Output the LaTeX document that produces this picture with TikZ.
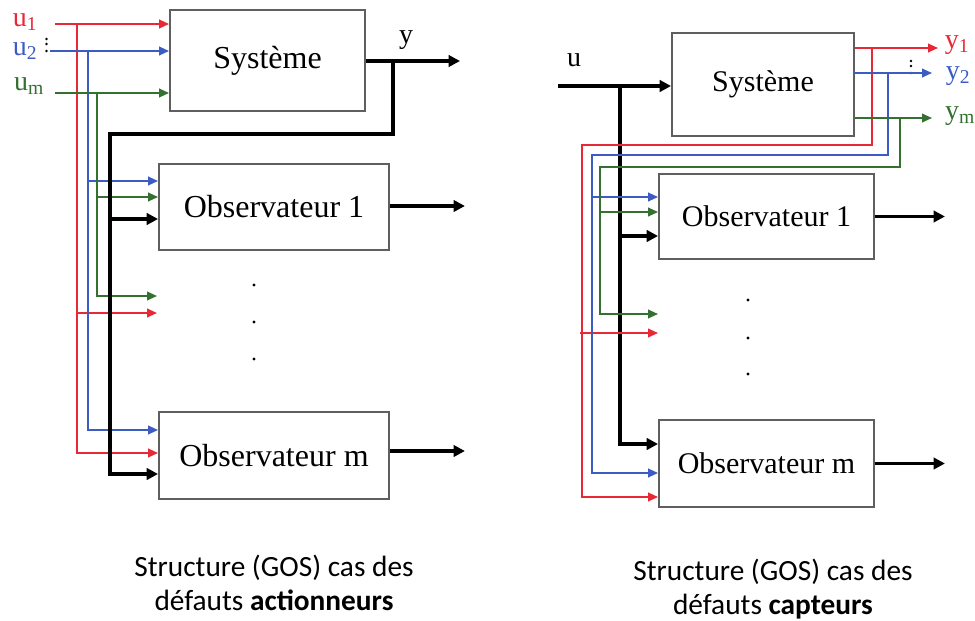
\documentclass[tikz,border=0pt]{standalone}
\usepackage{fontspec}
\setmainfont{Liberation Serif}
\newfontfamily\capfont{Carlito}
\usetikzlibrary{arrows.meta}
\definecolor{sigred}{RGB}{232,40,52}
\definecolor{sigblue}{RGB}{60,92,196}
\definecolor{siggreen}{RGB}{52,112,48}
\definecolor{boxgray}{RGB}{95,95,95}

\begin{document}
\begin{tikzpicture}[x=0.75pt,y=-0.75pt,
  blockbox/.style={draw=boxgray, line width=1.4pt, fill=white, inner sep=0pt},
  bigtxt/.style={font=\fontsize{24}{28}\selectfont},
  midtxt/.style={font=\fontsize{22.5}{26}\selectfont},
  lbl/.style={font=\fontsize{21}{25}\selectfont, inner sep=0pt},
  redsig/.style={draw=sigred, line width=1.4pt},
  bluesig/.style={draw=sigblue, line width=1.4pt},
  greensig/.style={draw=siggreen, line width=1.4pt},
  blksig/.style={draw=black, line width=2.8pt},
  tipc/.style={-{Triangle[length=7.5pt,width=6.5pt]}},
  tipk/.style={-{Triangle[length=8.5pt,width=8.5pt]}},
  capt/.style={font=\capfont\fontsize{22}{25.5}\selectfont, align=center}]
\useasboundingbox (0,0) rectangle (975,621);

% ---------- actuator faults (left) ----------
\node[blockbox, bigtxt, minimum width=195*0.75pt, minimum height=101*0.75pt] (sysA) at (267.5,60.5) {Système};
\node[blockbox, bigtxt, minimum width=230*0.75pt, minimum height=86*0.75pt] (obsA1) at (274,207) {Observateur 1};
\node[blockbox, bigtxt, minimum width=230*0.75pt, minimum height=87*0.75pt] (obsAm) at (274,455.5) {Observateur m};

\node[lbl, text=sigred] (lu1) at (25,22) {u\textsubscript{1}};
\node[lbl, text=sigblue] (lu2) at (25,51) {u\textsubscript{2}};
\node[lbl, text=siggreen] (lum) at (29,86) {u\textsubscript{m}};
\node[lbl] (ly) at (406,40) {y};
% vertical ellipsis between the inputs
\foreach \yy in {39,44,51} \fill (46.5,\yy) circle[radius=1.1pt];

\coordinate (uA1) at (55,24);
\coordinate (uA2) at (50,51);
\coordinate (uAm) at (55,93);
\coordinate (rA) at (77,24);
\coordinate (bA) at (88,51);
\coordinate (gA) at (97,93);
\coordinate (rAend) at (157,313);
\coordinate (gAend) at (157,296);

\draw[redsig, tipc] (uA1) -- (sysA.west |- uA1);
\draw[redsig, tipc] (rA) |- (obsAm.west |- 0,453);
\draw[redsig, tipc] (rA |- rAend) -- (rAend);

\draw[bluesig, tipc] (uA2) -- (sysA.west |- uA2);
\draw[bluesig, tipc] (bA) |- (obsAm.west |- 0,430);
\draw[bluesig, tipc] (bA |- 0,181) -- (obsA1.west |- 0,181);

\draw[greensig, tipc] (uAm) -- (sysA.west |- uAm);
\draw[greensig, tipc] (gA) |- (gAend);
\draw[greensig, tipc] (gA |- 0,197) -- (obsA1.west |- 0,197);

\coordinate (yAend) at (460,61);
\coordinate (kA) at (393,61);
\coordinate (kAturn) at (110,134);
\draw[blksig, tipk] (sysA.east |- yAend) -- (yAend);
\draw[blksig, tipk] (kA) |- (kAturn) |- (obsAm.west |- 0,474);
\draw[blksig, tipk] (kAturn |- 0,219) -- (obsA1.west |- 0,219);
\draw[blksig, tipk] (obsA1.east |- 0,206) -- ++(75,0);
\draw[blksig, tipk] (obsAm.east |- 0,451) -- ++(75,0);

\foreach \yy in {285,322,359} \fill (254,\yy) circle[radius=1.3pt];

% ---------- sensor faults (right) ----------
\node[blockbox, midtxt, minimum width=182*0.75pt, minimum height=103*0.75pt] (sysB) at (763,84.5) {Système};
\node[blockbox, midtxt, minimum width=215*0.75pt, minimum height=85*0.75pt] (obsB1) at (766.5,216.5) {Observateur 1};
\node[blockbox, midtxt, minimum width=215*0.75pt, minimum height=87*0.75pt] (obsBm) at (766.5,463.5) {Observateur m};

\node[lbl] (lu) at (574,60) {u};
\node[lbl, text=sigred] (ly1) at (957,45) {y\textsubscript{1}};
\node[lbl, text=sigblue] (ly2) at (958,76) {y\textsubscript{2}};
\node[lbl, text=siggreen] (lym) at (960,116) {y\textsubscript{m}};
% vertical ellipsis between the outputs
\foreach \yy in {61,66,73} \fill (911,\yy) circle[radius=1.1pt];

\coordinate (uB) at (558,86);
\coordinate (kB) at (620,86);
\draw[blksig, tipk] (uB) -- (sysB.west |- uB);
\draw[blksig, tipk] (kB) |- (obsBm.west |- 0,444);
\draw[blksig, tipk] (kB |- 0,236) -- (obsB1.west |- 0,236);
\draw[blksig, tipk] (obsB1.east) -- ++(70,0);
\draw[blksig, tipk] (obsBm.east) -- ++(70,0);

\coordinate (yB1) at (938,48);
\coordinate (yB2) at (932,73);
\coordinate (yBm) at (932,118);
\coordinate (rB) at (872,48);
\coordinate (bB) at (888,73);
\coordinate (gB) at (900,118);
\coordinate (rBturn) at (582,145);
\coordinate (bBturn) at (592,155);
\coordinate (gBturn) at (600,167);
\coordinate (rBend) at (658,333);
\coordinate (gBend) at (658,314);

\draw[redsig, tipc] (sysB.east |- yB1) -- (yB1);
\draw[redsig, tipc] (rB) |- (rBturn) |- (obsBm.west |- 0,497);
\draw[redsig, tipc] (rBturn |- rBend) ++(-2,0) -- (rBend);

\draw[bluesig, tipc] (sysB.east |- yB2) ++(-2,0) -- (yB2);
\draw[bluesig, tipc] (bB) |- (bBturn) |- (obsBm.west |- 0,473);
\draw[bluesig, tipc] (bBturn |- 0,197) -- (obsB1.west |- 0,197);

\draw[greensig, tipc] (sysB.east |- yBm) -- (yBm);
\draw[greensig, tipc] (gB) |- (gBturn) |- (gBend);
\draw[greensig, tipc] (gBturn |- 0,212) -- (obsB1.west |- 0,212);

\foreach \yy in {300,338,374} \fill (748,\yy) circle[radius=1.3pt];

% ---------- captions ----------
\node[capt] (capA) at (274,583) {Structure (GOS) cas des\\défauts \textbf{actionneurs}};
\node[capt] (capB) at (773,589) {Structure (GOS) cas des\\défauts \textbf{capteurs}};
\end{tikzpicture}
\end{document}
